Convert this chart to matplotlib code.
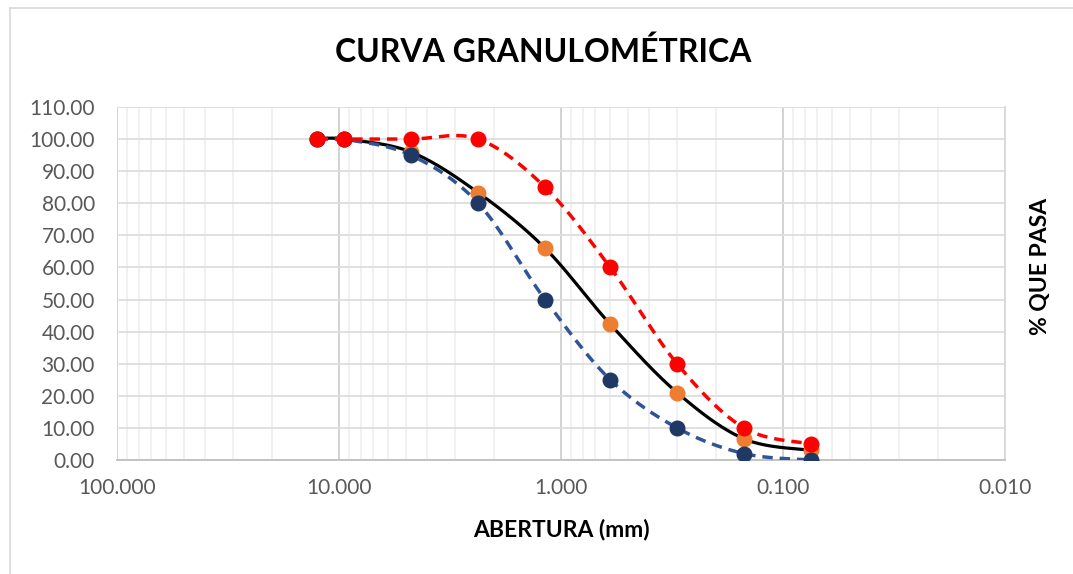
import numpy as np
import matplotlib
matplotlib.use("Agg")
import matplotlib.pyplot as plt
from matplotlib.ticker import FixedLocator, FuncFormatter, NullFormatter
from matplotlib.lines import Line2D

plt.rcParams['font.family'] = ['Lato', 'DejaVu Sans']

# sieve openings (mm) and % passing
abertura = [12.5, 9.5, 4.75, 2.36, 1.18, 0.6, 0.3, 0.15, 0.075]
lim_sup = [100, 100, 100, 100, 85, 60, 30, 10, 5]
muestra = [100, 100, 96, 83.3, 66, 42.3, 21, 6.6, 3]
lim_inf = [100, 100, 95, 80, 50, 25, 10, 2, 0]


def smooth(xs, ys, n=40):
    # excel-like smoothed line: catmull-rom bezier in (log x, y)
    u = np.log10(np.array(xs, float))
    v = np.array(ys, float)
    P = np.column_stack([u, v])
    out = []
    for i in range(len(P) - 1):
        p0 = P[i - 1] if i > 0 else P[i]
        p1, p2 = P[i], P[i + 1]
        p3 = P[i + 2] if i + 2 < len(P) else P[i + 1]
        c1 = p1 + (p2 - p0) / 6
        c2 = p2 - (p3 - p1) / 6
        t = np.linspace(0, 1, n)[:, None]
        seg = ((1 - t) ** 3 * p1 + 3 * (1 - t) ** 2 * t * c1
               + 3 * (1 - t) * t ** 2 * c2 + t ** 3 * p2)
        out.append(seg if i == 0 else seg[1:])
    out = np.vstack(out)
    return 10 ** out[:, 0], out[:, 1]


fig = plt.figure(figsize=(10.73, 5.74), dpi=100)
ax = fig.add_axes([117 / 1073, 114 / 574, 888 / 1073, 353 / 574])

# outer chart border (only left/top visible)
fig.add_artist(Line2D([10 / 1073, 10 / 1073], [0, 1 - 8 / 574],
                      transform=fig.transFigure, color='#D9D9D9', lw=1.2))
fig.add_artist(Line2D([10 / 1073, 1], [1 - 8 / 574, 1 - 8 / 574],
                      transform=fig.transFigure, color='#D9D9D9', lw=1.2))

ax.set_xscale('log')
ax.set_xlim(100, 0.01)
ax.set_ylim(0, 110)

major = [100, 10, 1, 0.1, 0.01]
minor = [m * 10.0 ** e for e in range(-2, 2) for m in range(2, 10)]
ax.xaxis.set_major_locator(FixedLocator(major))
ax.xaxis.set_minor_locator(FixedLocator(minor))
ax.xaxis.set_minor_formatter(NullFormatter())
ax.xaxis.set_major_formatter(FuncFormatter(lambda x, p: '%.3f' % x))
ax.set_yticks(np.arange(0, 111, 10))
ax.yaxis.set_major_formatter(FuncFormatter(lambda y, p: '%.2f' % y))

ax.grid(True, which='major', axis='x', color='#CFCFCF', lw=1.3)
ax.grid(True, which='minor', axis='x', color='#F0F0F0', lw=1.3)
ax.grid(True, which='major', axis='y', color='#DDDDDD', lw=1.3)
ax.set_axisbelow(True)
ax.tick_params(which='both', length=0)
ax.tick_params(axis='x', labelsize=15, labelcolor='#595959', pad=13)
ax.tick_params(axis='y', labelsize=15, labelcolor='#595959', pad=16)

for s in ['left', 'top']:
    ax.spines[s].set_visible(False)
ax.spines['right'].set_color('#D9D9D9')
ax.spines['right'].set_linewidth(1.3)
ax.spines['bottom'].set_color('#BFBFBF')
ax.spines['bottom'].set_linewidth(1.3)

# muestra: black smooth line, orange markers
sx, sy = smooth(abertura, muestra)
ax.plot(sx, sy, color='black', lw=2.3, zorder=3)
ax.plot(abertura, muestra, 'o', color='#ED7D31', ms=10.5, zorder=4)

# limite inferior: blue dashed
sx, sy = smooth(abertura, lim_inf)
ax.plot(sx, sy, color='#2F5597', lw=2.5, dashes=(3, 2), zorder=5)
ax.plot(abertura, lim_inf, 'o', color='#1F3864', ms=10.5, zorder=6)

# limite superior: red dashed
sx, sy = smooth(abertura, lim_sup)
ax.plot(sx, sy, color='#FF0000', lw=2.5, dashes=(3, 2), zorder=7)
ax.plot(abertura, lim_sup, 'o', color='#FF0000', ms=10.5, zorder=8)

fig.text(543 / 1073, 1 - 52 / 574, 'CURVA GRANULOMÉTRICA', ha='center',
         va='center', fontsize=23, fontweight='bold')
fig.text(561 / 1073, 1 - 530 / 574, 'ABERTURA (mm)', ha='center',
         va='center', fontsize=16.5, fontweight='bold')
fig.text(1040 / 1073, 1 - 266 / 574, '% QUE PASA', ha='center',
         va='center', fontsize=16.5, fontweight='bold', rotation=90)

fig.savefig('out.png', dpi=100)
